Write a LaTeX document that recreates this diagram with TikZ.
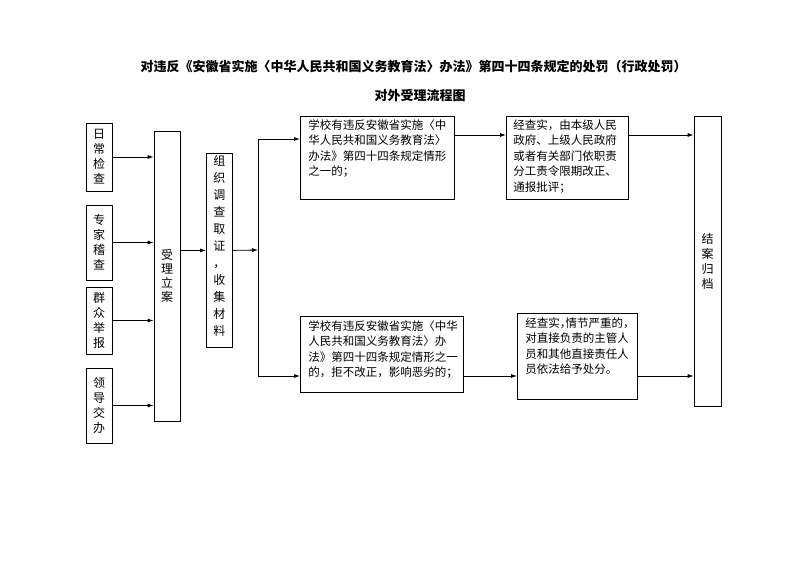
\documentclass[tikz,border=0pt]{standalone}
\usepackage{fontspec}
\newfontfamily\cjk{Noto Sans CJK SC}
\usetikzlibrary{arrows.meta}
\def\inbox#1#2#3#4{\parbox[c][#1][t]{#2}{\vspace*{#3}#4}}

\tikzset{
	box/.style={draw, line width=0.8pt, inner sep=0pt},
	vbox/.style={box, font=\cjk\fontsize{12}{15}\selectfont, align=center, minimum width=26pt},
	pbox/.style={box, font=\cjk\fontsize{11.5}{15.5}\selectfont, inner xsep=8pt, anchor=north west},
	flow/.style={line width=0.8pt, -{Latex[length=6pt,width=4pt]}},
}

\begin{document}
\begin{tikzpicture}[x=1pt, y=-1pt]
			%%%%% START %%%%%
			\useasboundingbox (0, 0) rectangle (802, 567);
			
			\node[font=\cjk\bfseries\fontsize{13}{13}\selectfont] (title) at (413.5, 67) {对违反《安徽省实施〈中华人民共和国义务教育法〉办法》第四十四条规定的处罚（行政处罚）};
			\node[font=\cjk\bfseries\fontsize{13}{13}\selectfont] (subtitle) at (420, 96) {对外受理流程图};
			
			\node[vbox, minimum height=68pt] (daily) at (99, 157) {日\\常\\检\\查};
			\node[vbox, minimum height=75pt] (expert) at (99, 242.5) {专\\家\\稽\\查};
			\node[vbox, minimum height=67pt] (public) at (99, 320.5) {群\\众\\举\\报};
			\node[vbox, minimum height=75pt] (leader) at (99, 405.5) {领\\导\\交\\办};
			
			\node[vbox, minimum height=290pt, font=\cjk\fontsize{12}{14}\selectfont] (accept) at (167, 276) {受\\理\\立\\案};
			\node[vbox, anchor=north west, font=\cjk\fontsize{12}{17}\selectfont] (inquiry) at (206, 153) {\inbox{194pt}{26pt}{2pt}{\centering 组\\织\\调\\查\\取\\证\\，\\收\\集\\材\\料}};
			
			\draw[flow] (daily.east) -- (daily.east -| accept.west);
			\draw[flow] (expert.east) -- (expert.east -| accept.west);
			\draw[flow] (public.east) -- (public.east -| accept.west);
			\draw[flow] (leader.east) -- (leader.east -| accept.west);
			\draw[flow] (accept.east |- inquiry.west) -- (inquiry.west);
			
			\coordinate (fork) at (258, 250);
			\coordinate (up) at (258, 139);
			\coordinate (down) at (258, 376);
			\coordinate (row) at (480, 135);
			
			\node[pbox] (caseA) at (300, 116) {\inbox{83pt}{138pt}{3pt}{\raggedright 学校有违反安徽省实施〈中\\华人民共和国义务教育法〉\\办法》第四十四条规定情形\\之一的；}};
			\node[pbox, inner xsep=7pt] (orderA) at (506, 116) {\inbox{83pt}{108pt}{3pt}{\raggedright 经查实，由本级人民\\政府、上级人民政府\\或者有关部门依职责\\分工责令限期改正、\\通报批评；}};
			
			\node[pbox] (caseB) at (300, 316) {\inbox{76pt}{147pt}{4pt}{\raggedright 学校有违反安徽省实施〈中华\\人民共和国义务教育法〉办\\法》第四十四条规定情形之一\\的，拒不改正，影响恶劣的；}};
			\node[pbox] (orderB) at (517, 313) {\inbox{86pt}{104pt}{4pt}{\raggedright 经查实\makebox[0.5em][l]{，}情节严重的，\\对直接负责的主管人\\员和其他直接责任人\\员依法给予处分。}};
			
			\node[vbox, minimum width=27pt, minimum height=290pt] (archive) at (707.5, 261) {结\\案\\归\\档};
			
			\draw[flow] (inquiry.east) -- (fork);
			\draw[line width=0.8pt] (up) -- (down);
			\draw[flow] (up) -- (up -| caseA.west);
			\draw[flow] (caseA.east |- row) -- (orderA.west |- row);
			\draw[flow] (orderA.east |- row) -- (archive.west |- row);
			\draw[flow] (down) -- (down -| caseB.west);
			\draw[flow] (caseB.east |- down) -- (orderB.west |- down);
			\draw[flow] (orderB.east |- down) -- (archive.west |- down);
			
			%%%%% END %%%%%
\end{tikzpicture}
\end{document}
